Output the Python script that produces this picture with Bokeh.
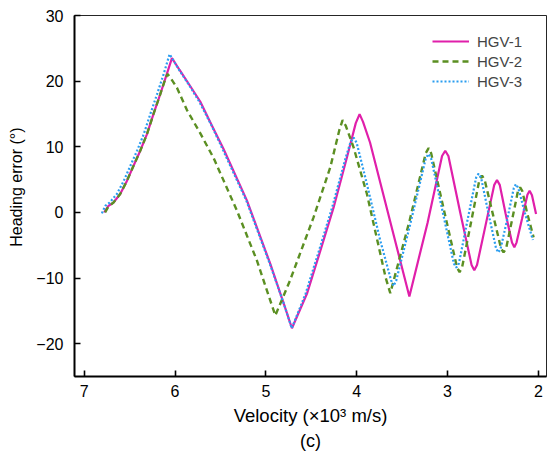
from bokeh.plotting import figure
from bokeh.models import Range1d, FixedTicker, Legend, LegendItem, Title, CustomJSTickFormatter
from bokeh.embed import file_html
from bokeh.resources import INLINE

FONT = "Liberation Sans"

x_ticks = [7, 6, 5, 4, 3, 2]
y_ticks = [-20, -10, 0, 10, 20, 30]
series_names = ["HGV-1", "HGV-2", "HGV-3"]

hgv1_v = [6.78, 6.733, 6.678, 6.604, 6.530, 6.457, 6.383, 6.310, 6.237, 6.163, 6.09, 6.034,
          5.95, 5.85, 5.723, 5.60, 5.466, 5.208, 4.951, 4.80, 4.713,
          4.548, 4.40, 4.254, 4.107, 4.01, 3.968, 3.93, 3.853, 3.64, 3.42,
          3.22, 3.06, 3.025, 2.99, 2.86, 2.735, 2.705, 2.675, 2.58, 2.485, 2.455, 2.425,
          2.36, 2.29, 2.264, 2.24, 2.18, 2.12, 2.096, 2.07, 2.025]
hgv1_e = [0.0, 1.0, 1.5, 2.8, 4.8, 7.1, 9.4, 11.9, 15.0, 18.0, 21.1, 23.5,
          21.7, 19.6, 16.9, 13.4, 9.65, 1.8, -7.85, -14.0, -17.65,
          -12.4, -5.83, 0.76, 8.4, 13.6, 14.98, 13.8, 10.65, -0.9, -12.8,
          -1.6, 8.6, 9.4, 8.6, 0.0, -8.0, -8.8, -8.0, -1.9, 4.2, 4.93, 4.2,
          -0.2, -4.6, -5.3, -4.6, -1.0, 2.7, 3.3, 2.6, -0.25]

hgv2_v = [6.77, 6.733, 6.678, 6.604, 6.530, 6.457, 6.383, 6.310, 6.237, 6.163, 6.11, 6.083,
          6.04, 5.979, 5.869, 5.72, 5.576, 5.318, 5.098, 4.896,
          4.735, 4.475, 4.291, 4.19, 4.155, 4.12, 4.034, 3.887, 3.777, 3.68, 3.63,
          3.42, 3.24, 3.208, 3.18, 3.04, 2.895, 2.867, 2.84, 2.745, 2.65, 2.62, 2.59,
          2.50, 2.41, 2.383, 2.355, 2.29, 2.225, 2.20, 2.175, 2.125, 2.052]
hgv2_e = [0.0, 0.9, 1.5, 2.8, 4.8, 7.1, 9.4, 11.9, 15.0, 18.0, 20.2, 21.1,
          20.3, 19.0, 15.6, 12.0, 8.3, 0.26, -7.35, -15.7,
          -10.4, -0.76, 6.85, 12.6, 14.06, 13.2, 9.9, 2.8, -4.0, -10.0, -12.3,
          -1.4, 9.0, 9.8, 9.0, 0.4, -8.4, -9.1, -8.4, -1.8, 4.9, 5.6, 4.9,
          -0.3, -5.5, -6.1, -5.5, -1.2, 3.2, 3.8, 3.2, 0.0, -3.8]

hgv3_v = [6.805, 6.769, 6.72, 6.64, 6.565, 6.492, 6.418, 6.345, 6.272, 6.198, 6.125, 6.06,
          6.02, 5.95, 5.85, 5.73, 5.60, 5.475, 5.215, 4.96, 4.80, 4.715,
          4.563, 4.415, 4.27, 4.12, 4.07, 4.034, 4.0, 3.887, 3.74, 3.62, 3.594, 3.565,
          3.40, 3.24, 3.21, 3.18, 3.055, 2.93, 2.903, 2.875, 2.78, 2.685, 2.658, 2.63,
          2.55, 2.465, 2.44, 2.415, 2.34, 2.27, 2.246, 2.22, 2.15, 2.06]
hgv3_e = [-0.15, 1.0, 1.5, 2.8, 4.8, 7.1, 9.4, 11.9, 15.0, 18.0, 21.1, 24.1,
          23.2, 21.6, 19.5, 16.8, 13.3, 9.6, 1.8, -7.7, -14.0, -17.65,
          -12.4, -5.83, 0.76, 8.4, 10.6, 11.4, 10.6, 4.3, -4.3, -10.4, -11.2, -10.4,
          -1.2, 8.2, 8.9, 8.2, 0.2, -7.8, -8.4, -7.8, -1.2, 5.3, 5.9, 5.3,
          -0.1, -5.5, -6.1, -5.5, -0.9, 3.7, 4.3, 3.7, 0.0, -4.2]

p = figure(width=547, height=454,
           x_range=Range1d(7.107, 1.91), y_range=Range1d(-25, 30),
           output_backend="svg", toolbar_location=None,
           min_border_left=74, min_border_right=1, min_border_top=15, min_border_bottom=78,
           background_fill_color="white", border_fill_color="white")

p.xgrid.visible = False
p.ygrid.visible = False
p.outline_line_color = "black"
p.outline_line_width = 1
p.outline_line_alpha = 0.85

r1 = p.line(hgv1_v, hgv1_e, line_color="#E01FAA", line_width=2.2)
r2 = p.line(hgv2_v, hgv2_e, line_color="#5B8F22", line_width=2.4, line_dash="6 4")
r3 = p.line(hgv3_v, hgv3_e, line_color="#2A9DF0", line_width=2.2, line_dash="2 2")

for ax in (p.xaxis[0], p.yaxis[0]):
    ax.axis_line_width = 2
    ax.axis_line_color = "black"
    ax.major_tick_line_width = 1.6
    ax.major_tick_line_color = "black"
    ax.major_tick_in = 6
    ax.major_tick_out = 0
    ax.minor_tick_line_color = None
    ax.major_label_text_font = FONT
    ax.major_label_text_font_size = "16px"
    ax.major_label_text_color = "black"
    ax.axis_label_text_font = FONT
    ax.axis_label_text_font_style = "normal"
    ax.axis_label_text_color = "black"

p.xaxis.axis_label_text_font_size = "18.5px"
p.yaxis.axis_label_text_font_size = "16px"
p.xaxis.ticker = FixedTicker(ticks=x_ticks)
p.yaxis.ticker = FixedTicker(ticks=y_ticks)
p.yaxis.formatter = CustomJSTickFormatter(code="return tick < 0 ? '\u2212' + Math.abs(tick) : String(tick);")
p.xaxis.major_label_standoff = 8
p.yaxis.major_label_standoff = 11
p.xaxis.axis_label = "Velocity (\u00d710\u00b3 m/s)"
p.yaxis.axis_label = "\u00a0\u00a0\u00a0\u00a0Heading error (\u00b0)"
p.xaxis.axis_label_standoff = 5
p.yaxis.axis_label_standoff = 8

legend = Legend(items=[LegendItem(label=series_names[0], renderers=[r1]),
                       LegendItem(label=series_names[1], renderers=[r2]),
                       LegendItem(label=series_names[2], renderers=[r3])],
                location=(353, 280), glyph_width=37, glyph_height=20, label_height=20,
                label_standoff=8, spacing=0, padding=5, margin=0,
                label_text_font=FONT, label_text_font_size="15px",
                border_line_alpha=0, background_fill_alpha=0)
p.add_layout(legend)

caption = Title(text="(c)", align="center", text_font=FONT, text_font_size="18px",
                text_font_style="normal", text_color="black", standoff=0, offset=0)
p.add_layout(caption, "below")

open("out.html", "w").write(file_html(p, INLINE))
